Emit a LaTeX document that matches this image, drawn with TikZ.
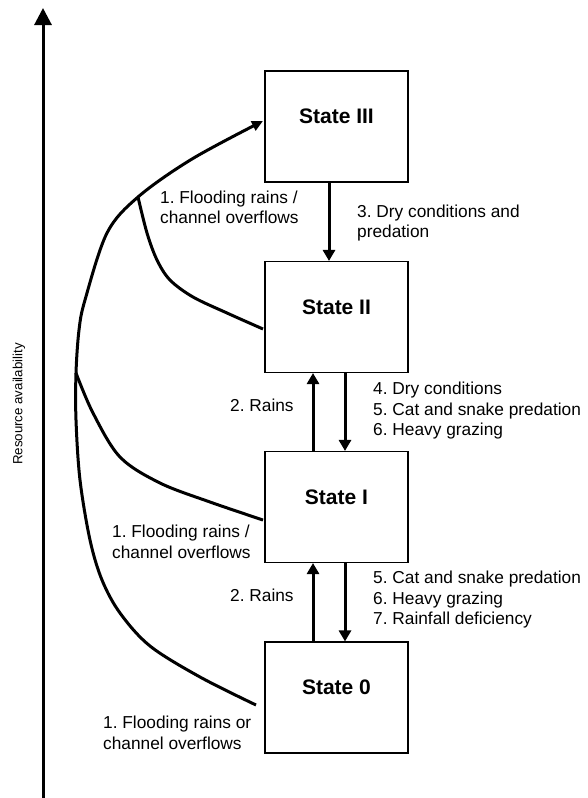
\documentclass[tikz,border=0pt]{standalone}
\usepackage{fontspec}
\setmainfont{Liberation Sans}
\usetikzlibrary{arrows.meta,calc}
\begin{document}
\frenchspacing
\begin{tikzpicture}[x=1pt,y=-1pt,
  box/.style={draw, line width=1.1pt, minimum width=143pt, minimum height=111pt, inner sep=0pt},
  slabel/.style={font=\fontsize{21}{24}\selectfont\bfseries, inner sep=0pt},
  txt/.style={font=\fontsize{17.3}{20.5}\selectfont, align=left, anchor=west, inner sep=0pt},
  conn/.style={line width=3pt, -{Triangle[length=11pt,width=12pt]}},
  curve/.style={line width=3pt}]
\path[use as bounding box] (0,0) rectangle (587,798);

% axis
\coordinate (axb) at (43,798);
\coordinate (axt) at (43,8);
\draw[line width=3pt, -{Triangle[length=17pt,width=17pt]}] (axb) -- (axt);
\node[rotate=90, font=\fontsize{13.3}{15}\selectfont, inner sep=0pt] (ra) at (19,404) {Resource availability};

% boxes
\node[box] (s3) at (336.5,126.5) {};
\node[box] (s2) at (336.5,317) {};
\node[box] (s1) at (336.5,507) {};
\node[box] (s0) at (336.5,697.5) {};
\node[slabel] (l3) at ($(s3.center)+(0,-10)$) {State III};
\node[slabel] (l2) at ($(s2.center)+(0,-10)$) {State II};
\node[slabel] (l1) at ($(s1.center)+(0,-10)$) {State I};
\node[slabel] (l0) at ($(s0.center)+(0,-10)$) {State 0};

% vertical transitions
\draw[conn] ($(s3.south)+(-7.5,0)$) -- ($(s2.north)+(-7.5,0)$);
\draw[conn] ($(s1.north)+(-23.5,0)$) -- ($(s2.south)+(-23.5,0)$);
\draw[conn] ($(s2.south)+(8.5,0)$) -- ($(s1.north)+(8.5,0)$);
\draw[conn] ($(s0.north)+(-23.5,0)$) -- ($(s1.south)+(-23.5,0)$);
\draw[conn] ($(s1.south)+(8.5,0)$) -- ($(s0.north)+(8.5,0)$);

% flooding curves
\coordinate (e0) at (256,705);
\coordinate (j1) at (76,373);
\coordinate (j2) at (138,197);
\coordinate (e3) at (263,121);
\coordinate (e2) at (263,329);
\coordinate (e1) at (263,520);
\draw[curve, -{Triangle[length=11pt,width=10pt]}] plot[smooth, tension=0.55] coordinates {
  (e0) (200,677) (150,646) (120,613) (102,580) (90,540) (80,480) (76,420) (j1)
  (79,330) (85,300) (107,233) (j2) (192,159) (e3)};
\draw[curve] plot[smooth, tension=0.55] coordinates {
  (j2) (147,233) (157,260) (170,280) (193,297) (227,313) (e2)};
\draw[curve] plot[smooth, tension=0.55] coordinates {
  (j1) (93,413) (120,457) (160,483) (210,502) (e1)};

% labels
\node[txt] (f3) at (160,207.5) {1. Flooding rains /\\channel overflows};
\node[txt] (f1) at (112,542) {1. Flooding rains /\\channel overflows};
\node[txt] (f0) at (103,733) {1. Flooding rains or\\channel overflows};
\node[txt] (r2) at (230,405) {2. Rains};
\node[txt] (r1) at (230,595) {2. Rains};
\node[txt] (d3) at (357,223) {3. Dry conditions and\\predation};
\node[txt] (d2) at (373,411) {4. Dry conditions\\5. Cat and snake predation\\6. Heavy grazing};
\node[txt] (d1) at (373,600) {5. Cat and snake predation\\6. Heavy grazing\\7. Rainfall deficiency};
\end{tikzpicture}
\end{document}
